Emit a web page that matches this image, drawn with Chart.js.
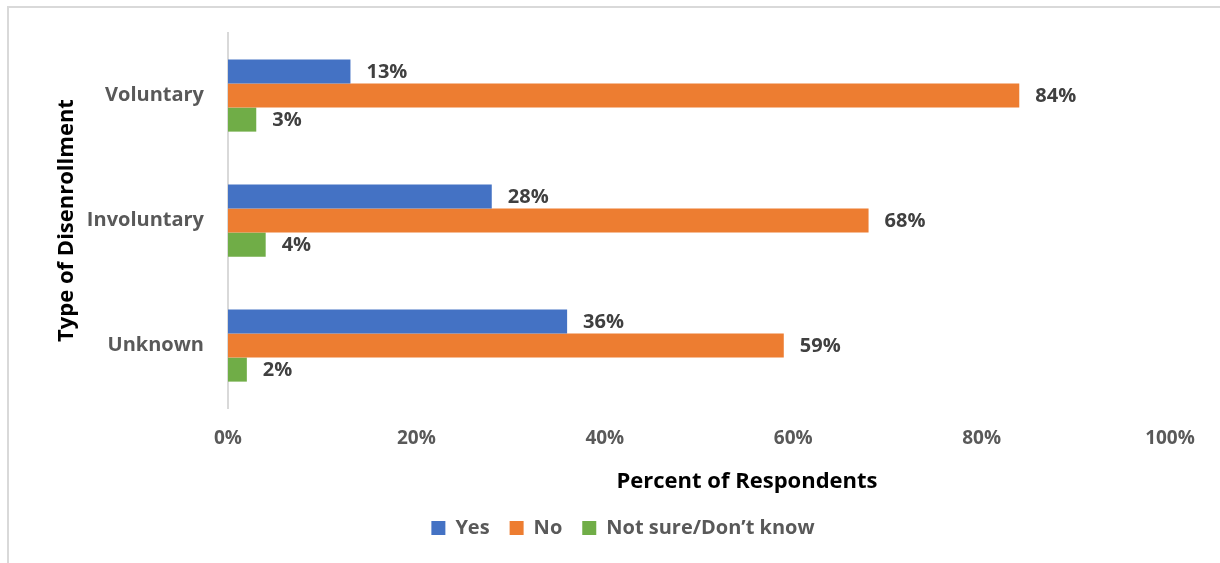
<!DOCTYPE html>
<html>
<head>
<meta charset="utf-8">
<script src="https://cdn.jsdelivr.net/npm/chart.js@4.4.1/dist/chart.umd.min.js"></script>
<style>
  html, body { margin: 0; padding: 0; background: #fff; }
  #wrap { position: relative; width: 1220px; height: 563px; }
  #frame {
    position: absolute; left: 7px; top: 6px; right: -2px; bottom: -2px;
    border-top: 2px solid #d9d9d9; border-left: 2px solid #d9d9d9;
  }
  canvas { position: absolute; left: 0; top: 0; }
</style>
</head>
<body>
<div id="wrap">
  <div id="frame"></div>
  <canvas id="chart" width="1220" height="563"></canvas>
</div>
<script>
// Survey results by type of disenrollment
const categories = ['Voluntary', 'Involuntary', 'Unknown'];
const yesValues = [13, 28, 36];
const noValues = [84, 68, 59];
const notSureValues = [3, 4, 2];
const xTicks = [0, 20, 40, 60, 80, 100];

const FONT = '"Open Sans", Lato, sans-serif';
const X_TITLE = 'Percent of Respondents';

// Draws the percentage next to the end of every bar
const barValueLabels = {
    id: 'barValueLabels',
    afterDatasetsDraw(chart) {
        const ctx = chart.ctx;
        ctx.save();
        ctx.font = `bold 20px ${FONT}`;
        ctx.fillStyle = '#404040';
        ctx.textAlign = 'left';
        ctx.textBaseline = 'middle';
        chart.data.datasets.forEach((ds, i) => {
            const meta = chart.getDatasetMeta(i);
            meta.data.forEach((bar, j) => {
                ctx.fillText(ds.data[j] + '%', bar.x + 16, bar.y + 1);
            });
        });
        ctx.restore();
    }
};

// The x title and the legend sit a bit right of the plot centre
const offsetTitleAndLegend = {
    id: 'offsetTitleAndLegend',
    afterLayout(chart) {
        if (chart.legend) {
            chart.legend.left += 34;
            chart.legend.right += 34;
        }
    },
    afterDraw(chart) {
        const ctx = chart.ctx;
        const x = chart.scales.x;
        ctx.save();
        ctx.font = `bold 22px ${FONT}`;
        ctx.fillStyle = '#000';
        ctx.textAlign = 'center';
        ctx.textBaseline = 'middle';
        ctx.fillText(X_TITLE, (x.left + x.right) / 2 + 48, x.bottom - 16);
        ctx.restore();
    }
};

const ctx = document.getElementById('chart').getContext('2d');
new Chart(ctx, {
    type: 'bar',
    data: {
        labels: categories,
        datasets: [
            { label: 'Yes', data: yesValues, backgroundColor: '#4472C4' },
            { label: 'No', data: noValues, backgroundColor: '#ED7D31' },
            { label: 'Not sure/Don\u2019t know', data: notSureValues, backgroundColor: '#70AD47' }
        ]
    },
    options: {
        indexAxis: 'y',
        responsive: false,
        animation: false,
        events: [],
        layout: { padding: { left: 8, top: 33, right: 50, bottom: 15 } },
        datasets: {
            bar: { categoryPercentage: 0.578, barPercentage: 1.0 }
        },
        plugins: {
            tooltip: { enabled: false },
            legend: {
                position: 'bottom',
                labels: {
                    boxWidth: 14,
                    boxHeight: 14,
                    padding: 20,
                    color: '#595959',
                    font: { family: FONT, size: 20, weight: 'bold' }
                }
            }
        },
        scales: {
            x: {
                min: 0,
                max: 100,
                afterBuildTicks(scale) {
                    scale.ticks = xTicks.map(v => ({ value: v }));
                },
                afterFit(scale) { scale.height = 90; },
                grid: { display: false },
                border: { display: false },
                ticks: {
                    padding: 11,
                    color: '#595959',
                    font: { family: FONT, size: 19, weight: 'bold' },
                    callback: v => v + '%'
                }
            },
            y: {
                afterFit(scale) { scale.width = 220; },
                grid: { display: false },
                border: { display: true, color: '#d9d9d9', width: 2 },
                ticks: {
                    padding: 16,
                    color: '#595959',
                    font: { family: FONT, size: 20, weight: 'bold' }
                },
                title: {
                    display: true,
                    text: 'Type of Disenrollment',
                    color: '#000',
                    padding: { top: 46, bottom: 0 },
                    font: { family: FONT, size: 22, weight: 'bold' }
                }
            }
        }
    },
    plugins: [barValueLabels, offsetTitleAndLegend]
});
</script>
</body>
</html>
